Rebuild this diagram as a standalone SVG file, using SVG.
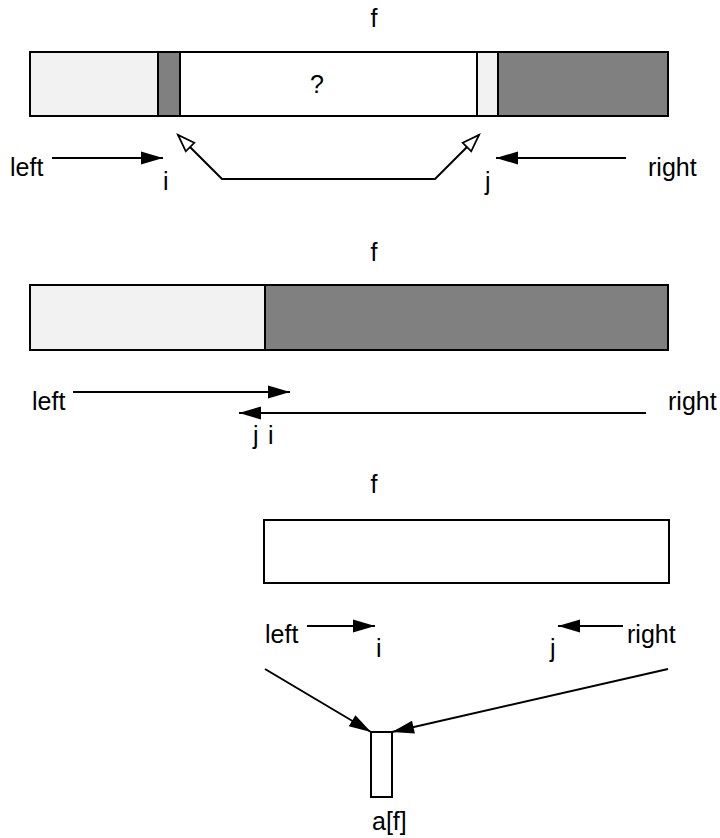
<svg xmlns="http://www.w3.org/2000/svg" width="720" height="838" viewBox="0 0 720 838">
<style>
.t{font-family:"Liberation Sans",Arial,Helvetica,sans-serif;font-size:25px;fill:#000}
.b{stroke:#000;stroke-width:2}
.lt{fill:#f2f2f2}
.dk{fill:#808080}
.wh{fill:#fff}
.ln{stroke:#000;stroke-width:2;fill:none}
.fa{marker-end:url(#fa)}
.ha{marker-end:url(#ha);marker-start:url(#hs)}
</style>
<defs>
<marker id="fa" markerUnits="userSpaceOnUse" markerWidth="24" markerHeight="14" refX="22" refY="6.5" orient="auto" overflow="visible">
<path d="M0,0 L22,6.5 L0,13 z" fill="#000"/>
</marker>
<marker id="ha" markerUnits="userSpaceOnUse" markerWidth="20" markerHeight="14" refX="17" refY="6" orient="auto" overflow="visible">
<path d="M0,0 L17,6 L0,12 z" fill="#fff" stroke="#000" stroke-width="1.8"/>
</marker>
<marker id="hs" markerUnits="userSpaceOnUse" markerWidth="20" markerHeight="14" refX="0" refY="6" orient="auto" overflow="visible">
<path d="M17,0 L0,6 L17,12 z" fill="#fff" stroke="#000" stroke-width="1.8"/>
</marker>
</defs>

<g id="array1">
<text class="t" x="374" y="27" text-anchor="middle">f</text>
<rect class="lt b" x="30" y="52" width="128" height="64"/>
<rect class="dk b" x="158" y="52" width="22" height="64"/>
<rect class="wh b" x="180" y="52" width="297" height="64"/>
<rect class="lt b" x="477" y="52" width="21" height="64"/>
<rect class="dk b" x="498" y="52" width="170" height="64"/>
<text class="t" x="317" y="93" text-anchor="middle">?</text>
</g>
<g id="labels1">
<text class="t" x="10" y="176">left</text>
<text class="t" x="163" y="190">i</text>
<text class="t" x="485" y="190">j</text>
<text class="t" x="648" y="176">right</text>
</g>

<g id="array2">
<text class="t" x="374" y="261" text-anchor="middle">f</text>
<rect class="lt b" x="30" y="285" width="235" height="65"/>
<rect class="dk b" x="265" y="285" width="403" height="65"/>
</g>
<g id="labels2">
<text class="t" x="32" y="410">left</text>
<text class="t" x="668" y="410">right</text>
<text class="t" x="253" y="444">j</text>
<text class="t" x="268" y="444">i</text>
</g>

<g id="array3">
<text class="t" x="374" y="493" text-anchor="middle">f</text>
<rect class="wh b" x="264" y="520" width="405" height="63"/>
</g>
<g id="labels3">
<text class="t" x="265" y="643">left</text>
<text class="t" x="376" y="657">i</text>
<text class="t" x="550" y="657">j</text>
<text class="t" x="627" y="643">right</text>
</g>
<g id="cell">
<rect class="wh b" x="371" y="732" width="21" height="65"/>
<text class="t" x="372" y="830">a[f]</text>
</g>

<g id="connectors">
<line class="ln fa" x1="52" y1="158" x2="163" y2="158"/>
<line class="ln fa" x1="626" y1="158" x2="496" y2="158"/>
<polyline class="ln ha" points="178,135 222,179 435,179 479,135"/>
<line class="ln fa" x1="73" y1="392" x2="290" y2="392"/>
<line class="ln fa" x1="646" y1="413" x2="239" y2="413"/>
<line class="ln fa" x1="307" y1="626" x2="375" y2="626"/>
<line class="ln fa" x1="623" y1="626" x2="558" y2="626"/>
<line class="ln fa" x1="265" y1="669" x2="371" y2="732"/>
<line class="ln fa" x1="668" y1="669" x2="392" y2="732"/>
</g>
</svg>
